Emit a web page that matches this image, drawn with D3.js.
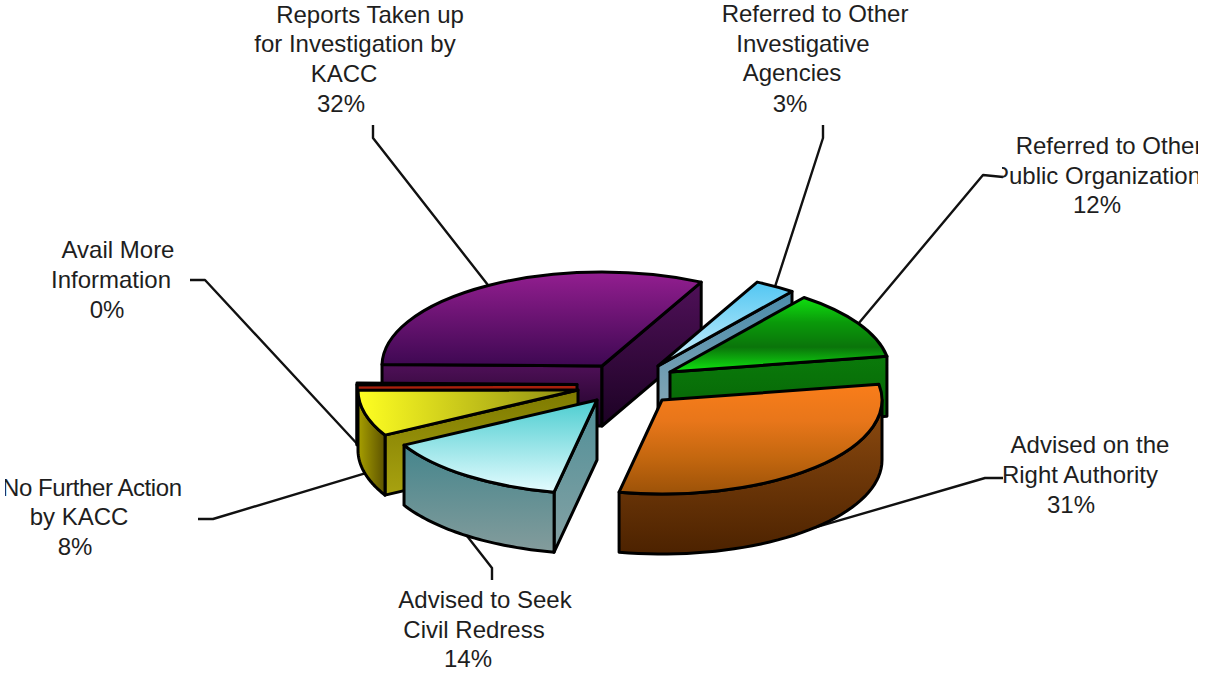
<!DOCTYPE html>
<html><head><meta charset="utf-8">
<style>html,body{margin:0;padding:0;background:#fff}svg{display:block}text{font-family:"Liberation Sans",Arial,sans-serif;font-size:24px;fill:#1e1e1e;text-anchor:middle}</style>
<script src="https://cdn.jsdelivr.net/npm/d3@7/dist/d3.min.js"></script>
</head><body><svg id="c" width="1208" height="675"></svg>
<script>
// Data, in pie order clockwise from the top right
const categories = ["Referred to Other Investigative Agencies","Referred to Other Public Organization","Advised on the Right Authority","Advised to Seek Civil Redress","No Further Action by KACC","Avail More Information","Reports Taken up for Investigation by KACC"];
const shares = [3,12,31,14,8,0.3,32.4];
const shownPercent = ["3%","12%","31%","14%","8%","0%","32%"];

// Layout
const W=1208,H=675, rx=220, ry=94, depth=60, firstAngle=26.8;
const apexes=[[658,366],[670,372],[662,400],[597,400],[578,390],[577,384.5],[602,366]];
const drawOrder=[6,0,1,5,4,3,2];
const labelLines=[
 [["Referred to Other",815,22],["Investigative",803,52],["Agencies",792,81],["3%",790,112]],
 [["Referred to Other",1109,154],["Public Organization",1097,184],["12%",1097,213]],
 [["Advised on the",1090,453],["Right Authority",1080,483],["31%",1071,513]],
 [["Advised to Seek",485,608],["Civil Redress",474,638],["14%",468,667]],
 [["No Further Action",92,496,180],["by KACC",79,525],["8%",75,555]],
 [["Avail More",118,258],["Information",111,288],["0%",107,318]],
 [["Reports Taken up",370,23],["for Investigation by",355,52],["KACC",344,82],["32%",341,112]]
];
const labelClips=[null,[1002,1198],null,null,[5,400],null,null];
const leaderBends=[
 [[823,125],[823,138]],
 [[1003,177],[983,175]],
 [[1003,478],[985,478]],
 [[492,580],[492,568]],
 [[198,519],[213,519]],
 [[190,280],[205,280]],
 [[373,125],[373,138]]
];
const palette=[
 {top:["#52c6f2","#cdf1fc"],wall:["#4a8cab","#8ba9b6"],rim:["#4a8cab","#8ba9b6"],dir:"v"},
 {top:["#0fe00f","#0a9a0a","#0a740a","#10e810"],wall:["#0a7a0a","#066006"],rim:["#0a7a0a","#066006"],dir:"v"},
 {top:["#f97d1a","#e8761a","#c4670f","#9c5208"],wall:["#8f4c10","#4c2200"],rim:["#8f4c10","#4c2200"],dir:"v"},
 {top:["#4ccdd0","#e4fcff"],wall:["#4f8f98","#86a2a4"],rim:["#44858c","#849c9c"],dir:"v"},
 {top:["#ffff22","#8c8a12"],wall:["#7e7a00","#a8a210"],rim:["#a8a000","#5c5200"],dir:"h"},
 {top:["#a8200c","#a8200c"],wall:["#a8200c","#a8200c"],rim:["#300000","#100000"],dir:"v"},
 {top:["#931e90","#3e0852"],wall:["#4f1058","#1c0224"],rim:["#5c1068","#4a0c54"],dir:"v"}
];

const svg=d3.select("#c"), defs=svg.append("defs");
const slices=d3.pie().sort(null).value(d=>d)
  .startAngle(firstAngle*Math.PI/180).endAngle((firstAngle+360)*Math.PI/180)(shares);
const rimX=d3.scaleLinear().domain([-1,1]).range([-rx,rx]);
const rimY=d3.scaleLinear().domain([-1,1]).range([ry,-ry]);
const rimPt=(i,a,dz=0)=>[apexes[i][0]+rimX(Math.sin(a)),apexes[i][1]+rimY(Math.cos(a))+dz];
const line=d3.line();
const arc=d3.arc().innerRadius(0).outerRadius(rx);

function gradient(id,stops,dir){
  const g=defs.append("linearGradient").attr("id",id).attr("x1",0).attr("y1",0)
    .attr("x2",dir==="h"?1:0).attr("y2",dir==="h"?0:1);
  stops.forEach((c,k)=>g.append("stop").attr("offset",k/(stops.length-1)).attr("stop-color",c));
  return `url(#${id})`;
}

// Leader lines, from each slice's rim at its mid angle to the bend near its label
const leaders=svg.append("g");
slices.forEach((s,i)=>{
  const mid=(s.startAngle+s.endAngle)/2;
  const below=Math.cos(mid)<0.1;
  const end=rimPt(i,mid,below?depth:0);
  leaders.append("path").attr("d",line([...leaderBends[i],end]))
    .attr("fill","none").attr("stroke","#111").attr("stroke-width",2.4).attr("stroke-linejoin","round");
});

// Slices
const pieG=svg.append("g").attr("stroke","#000").attr("stroke-width",3).attr("stroke-linejoin","round");
drawOrder.forEach(i=>{
  const s=slices[i], p=palette[i], [ax,ay]=apexes[i], g=pieG.append("g");
  const wallFill=gradient("w"+i,p.wall,"v");
  [[s.startAngle,Math.sin(s.startAngle)<0],[s.endAngle,Math.sin(s.endAngle)>0]].forEach(([a,vis])=>{
    if(!vis) return;
    const r=rimPt(i,a), r2=rimPt(i,a,depth);
    g.append("path").attr("d",line([[ax,ay],r,r2,[ax,ay+depth]])+"Z").attr("fill",wallFill);
  });
  // outer wall: only the part of the rim facing the viewer
  const lo=Math.max(s.startAngle,Math.PI/2), hi=Math.min(s.endAngle,Math.PI*1.5);
  if(hi>lo){
    const as=d3.range(0,41).map(k=>lo+(hi-lo)*k/40);
    const pts=[...as.map(a=>rimPt(i,a)),...as.slice().reverse().map(a=>rimPt(i,a,depth))];
    g.append("path").attr("d",line(pts)+"Z").attr("fill",gradient("r"+i,p.rim,p.dir==="h"?"h":"v"));
  }
  g.append("path").attr("d",arc(s)).attr("transform",`translate(${ax},${ay}) scale(1,${ry/rx})`)
    .attr("vector-effect","non-scaling-stroke").attr("fill",gradient("t"+i,p.top,p.dir))
    .attr("data-category",categories[i]);
});

// Labels
labelLines.forEach((lines,i)=>{
  const g=svg.append("g");
  if(labelClips[i]){
    const [a,b]=labelClips[i];
    defs.append("clipPath").attr("id","lc"+i).append("rect").attr("x",a).attr("y",0).attr("width",b-a).attr("height",H);
    g.attr("clip-path",`url(#lc${i})`);
  }
  lines.forEach(([t,x,y,len],k)=>{
    const el=g.append("text").attr("x",x).attr("y",y).text(k===lines.length-1?shownPercent[i]:t);
    if(len) el.attr("textLength",len);
  });
});
</script></body></html>
